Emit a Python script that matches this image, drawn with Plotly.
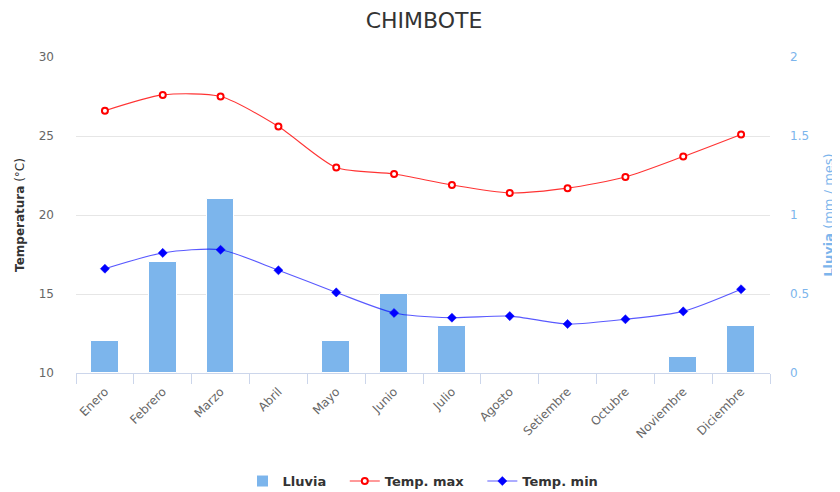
import plotly.graph_objects as go

months = ["Enero", "Febrero", "Marzo", "Abril", "Mayo", "Junio", "Julio",
          "Agosto", "Setiembre", "Octubre", "Noviembre", "Diciembre"]
lluvia = [0.2, 0.7, 1.1, 0, 0.2, 0.5, 0.3, 0, 0, 0, 0.1, 0.3]
temp_max = [26.6, 27.6, 27.5, 25.6, 23.0, 22.6, 21.9, 21.4, 21.7, 22.4, 23.7, 25.1]
temp_min = [16.6, 17.6, 17.8, 16.5, 15.1, 13.8, 13.5, 13.6, 13.1, 13.4, 13.9, 15.3]

FONT = "DejaVu Sans, Verdana, sans-serif"
NB = "\u00a0"

fig = go.Figure()
fig.add_trace(go.Bar(
    x=months, y=lluvia, name="Lluvia" + NB * 3, yaxis="y",
    marker=dict(color="#7cb5ec", line=dict(color="white", width=1)),
    width=0.48,
))
fig.add_trace(go.Scatter(
    x=months, y=temp_max, name="Temp. max" + NB * 3, yaxis="y2",
    mode="lines+markers",
    line=dict(color="rgba(255,0,0,0.8)", width=1.1, shape="spline", smoothing=0.7),
    marker=dict(symbol="circle", size=6, color="white", line=dict(color="#ff0000", width=2)),
))
fig.add_trace(go.Scatter(
    x=months, y=temp_min, name="Temp. min", yaxis="y2",
    mode="lines+markers",
    line=dict(color="rgba(0,0,255,0.65)", width=1.1, shape="spline", smoothing=0.7),
    marker=dict(symbol="diamond", size=7, color="#0000ff", line=dict(color="#0000ff", width=0.5)),
))

# page body has an 8px margin, so the figure is drawn 8px smaller and shifted
fig.update_layout(
    width=832, height=484,
    margin=dict(l=68, r=70, t=49, b=119, autoexpand=False),
    paper_bgcolor="white", plot_bgcolor="white",
    font=dict(family=FONT, color="#666666", size=12),
    title=dict(text="CHIMBOTE", x=0.5, xanchor="center", y=0.975, yanchor="middle",
               font=dict(family=FONT, size=22, color="#333333")),
    showlegend=True,
    legend=dict(orientation="h", x=0.5, xanchor="center", y=-0.342, yanchor="middle",
                font=dict(family=FONT, size=13, color="#333333", weight="bold"),
                itemwidth=30, traceorder="normal"),
    bargap=0,
    xaxis=dict(
        type="category", tickangle=-45, showgrid=False, automargin=False,
        showline=True, linecolor="#ccd6eb", linewidth=1,
        ticks="outside", ticklen=10, tickcolor="#ccd6eb", tickson="boundaries",
        tickfont=dict(family=FONT, size=12, color="#666666"),
        ticklabelstandoff=6,
        range=[-0.5, 11.5],
    ),
    yaxis=dict(
        side="right", range=[0, 2], dtick=0.5, showgrid=True, gridcolor="#e6e6e6",
        zeroline=False, showline=False, automargin=False,
        tickfont=dict(family=FONT, size=12, color="#7cb5ec"),
        title=dict(text="<b>Lluvia</b> (mm / mes)", standoff=15,
                   font=dict(family=FONT, size=13, color="#7cb5ec")),
        ticklabelstandoff=19,
    ),
    yaxis2=dict(
        overlaying="y", side="left", range=[10, 30], dtick=5, showgrid=False,
        zeroline=False, showline=False, automargin=False,
        tickfont=dict(family=FONT, size=12, color="#666666"),
        title=dict(text="<b>Temperatura</b> (°C)", standoff=11,
                   font=dict(family=FONT, size=12, color="#333333")),
        ticklabelstandoff=21,
    ),
)

fig.write_html("out.html")
